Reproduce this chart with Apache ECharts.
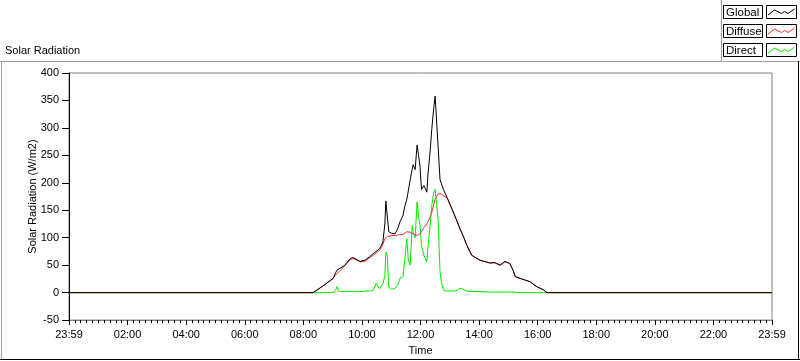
<!DOCTYPE html>
<html>
<head>
<meta charset="utf-8">
<script src="https://cdn.jsdelivr.net/npm/echarts@6/dist/echarts.min.js"></script>
<style>
html,body{margin:0;padding:0;background:#fff;}
#chart{width:800px;height:361px;}
</style>
</head>
<body>
<div id="chart"></div>
<script>
// Minutes after the 23:59 start of the day
var times = [0,500,520,541,546,549,553,565,576,582,590,596,606,615,623,629,636,640,643,647,649,652,655,661,668,674,678,684,688,692,695,699,703,705,709,713,716,719,722,727,733,735,740,743,747,750,753,756,760,763,767,772,776,787,795,801,808,815,825,842,862,872,883,893,903,910,914,924,944,958,972,979,1440];
var globalVals  = [0,0,12,26,36,41,38,50,62,64,60,57,59,65,71,75,80,86,93,125,167,165,111,108,107,118,129,140,158,170,185,206,225,233,224,269,250,230,188,195,183,212,260,297,335,358,360,267,206,198,188,178,170,147,130,116,102,86,68,59,54,55,50,57,53,40,29,26,20,11,5,0,0];
var diffuseVals = [0,0,12,26,32,35,38,49,60,62,59,56,57,63,68,72,77,82,88,98,100,102,104,104,104,105,105,106,107,111,110,110,108,107,104,104,105,107,110,118,125,128,138,146,160,170,175,180,182,180,176,174,170,147,129,116,102,86,68,59,54,54,50,56,53,40,30,26,20,11,5,0,0];
var directVals  = [0,0,0,0,4,11,2,2,2,2,2,2,3,3,4,17,7,7,17,30,74,68,10,6,8,15,26,29,62,98,60,50,122,110,100,165,140,122,86,68,56,80,125,158,182,188,188,134,38,18,5,3,2,3,4,8,6,3,2,2,1,1,1,1,1,1,0,0,0,0,0,0,0];
var seriesNames = ['Global','Diffuse','Direct'];
var yTicks = {min:-50, max:400, step:50};
var xTicks = {min:0, max:1440, step:120};

function pairs(vals){ return times.map(function(t,i){ return [t, vals[i]]; }); }
function fmtTime(v){
  if (v === 0 || v === 1440) return '23:59';
  var h = Math.round(v/60) % 24;
  return (h<10?'0':'')+h+':00';
}
var FONT = 'Liberation Sans';
var chart = echarts.init(document.getElementById('chart'), null, {renderer:'canvas'});

function zig(x,y){
  return [[x+1.5,y+9],[x+8,y+4],[x+15,y+7.5],[x+18,y+5.5],[x+21.5,y+7.5],[x+28,y+3]];
}
var legendColors = ['#000000','#ff3030','#00ee00'];
var legendGraphics = [];
seriesNames.forEach(function(n,i){
  var y = 5 + i*19;
  legendGraphics.push({type:'rect', shape:{x:723.5,y:y+0.5,width:39,height:13}, style:{fill:'#fff',stroke:'#000',lineWidth:1}, silent:true});
  legendGraphics.push({type:'text', x:726, y:y+1.5, style:{text:n, font:'11.5px "'+FONT+'"', fill:'#000'}, silent:true});
  legendGraphics.push({type:'rect', shape:{x:766.5,y:y+0.5,width:30,height:13}, style:{fill:'#fff',stroke:'#000',lineWidth:1}, silent:true});
  legendGraphics.push({type:'polyline', shape:{points:zig(766.5,y+1)}, style:{stroke:legendColors[i],lineWidth:1,fill:null}, silent:true});
});

var option = {
  animation:false,
  backgroundColor:'#ffffff',
  textStyle:{fontFamily:FONT},
  grid:{left:69, top:73, width:703, height:249, show:true, borderColor:'#808080', borderWidth:1, backgroundColor:'#fff'},
  xAxis:{
    type:'value', min:xTicks.min, max:xTicks.max, interval:xTicks.step,
    name:'Time', nameLocation:'middle', nameGap:24,
    nameTextStyle:{fontSize:11, color:'#000', fontFamily:FONT},
    axisLine:{show:true, onZero:false, lineStyle:{color:'#808080', width:1}},
    axisTick:{show:true, length:5, lineStyle:{color:'#000'}},
    minorTick:{show:true, splitNumber:10, length:3, lineStyle:{color:'#000'}},
    axisLabel:{formatter:fmtTime, fontSize:11, color:'#000', margin:9, fontFamily:FONT, showMinLabel:true, showMaxLabel:true},
    splitLine:{show:false}
  },
  yAxis:{
    type:'value', min:yTicks.min, max:yTicks.max, interval:yTicks.step,
    name:'Solar Radiation (W/m2)', nameLocation:'middle', nameGap:31, nameRotate:90, nameMoveOverlap:false,
    nameTextStyle:{fontSize:11, color:'#000', fontFamily:FONT},
    axisLine:{show:true, onZero:false, lineStyle:{color:'#000', width:1}},
    axisTick:{show:true, length:7, lineStyle:{color:'#000'}},
    axisLabel:{fontSize:11, color:'#000', margin:10, fontFamily:FONT},
    splitLine:{show:false}
  },
  series:[
    {name:seriesNames[2], type:'line', data:pairs(directVals), showSymbol:false, symbol:'none', lineStyle:{color:'#00ee00', width:1}, itemStyle:{color:'#00ee00'}, z:2},
    {name:seriesNames[1], type:'line', data:pairs(diffuseVals), showSymbol:false, symbol:'none', lineStyle:{color:'#ff3030', width:1}, itemStyle:{color:'#ff3030'}, z:3},
    {name:seriesNames[0], type:'line', data:pairs(globalVals), showSymbol:false, symbol:'none', lineStyle:{color:'#000000', width:1}, itemStyle:{color:'#000'}, z:4}
  ],
  graphic:[
    {type:'line', shape:{x1:0,y1:61.5,x2:800,y2:61.5}, style:{stroke:'#a0a0a0',lineWidth:1}, silent:true},
    {type:'line', shape:{x1:1.5,y1:61,x2:1.5,y2:360}, style:{stroke:'#a0a0a0',lineWidth:1}, silent:true},
    {type:'line', shape:{x1:0,y1:359.5,x2:800,y2:359.5}, style:{stroke:'#000',lineWidth:1}, silent:true},
    {type:'line', shape:{x1:798.5,y1:61,x2:798.5,y2:360}, style:{stroke:'#000',lineWidth:1}, silent:true},
    {type:'line', shape:{x1:721.5,y1:0,x2:721.5,y2:61}, style:{stroke:'#a0a0a0',lineWidth:1}, silent:true},
    {type:'text', x:5, y:45, style:{text:'Solar Radiation', font:'11px "'+FONT+'"', fill:'#000'}, silent:true}
  ].concat(legendGraphics)
};
chart.setOption(option);
</script>
</body>
</html>
